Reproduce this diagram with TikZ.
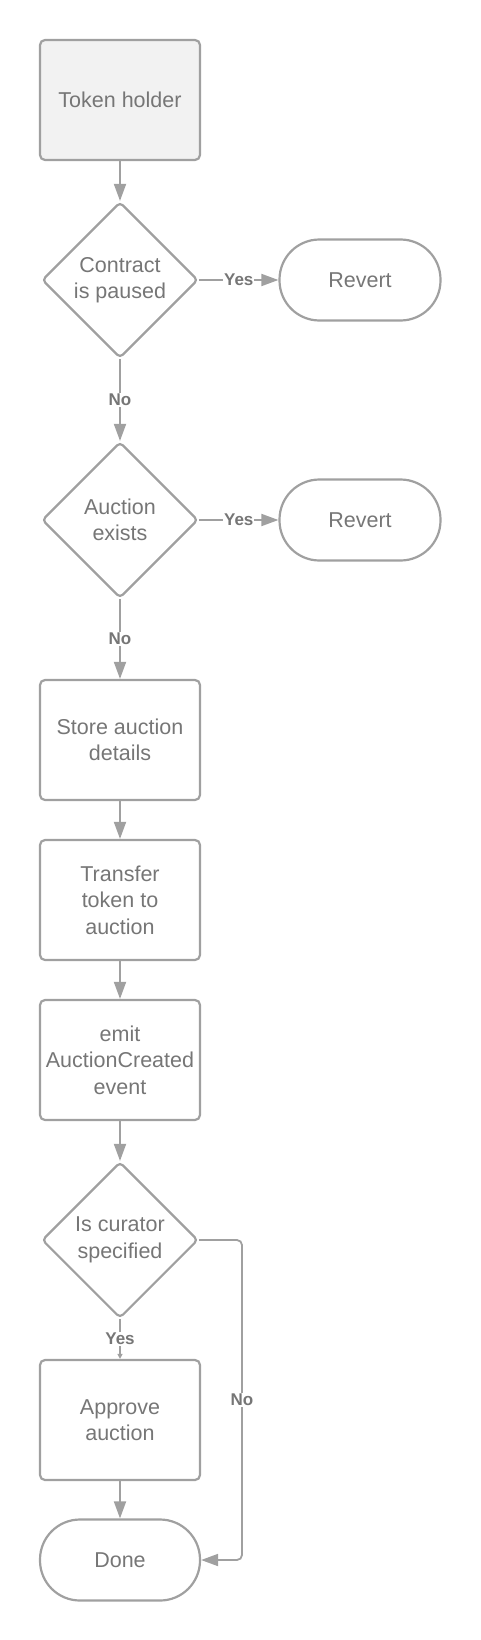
\documentclass[tikz,border=0pt]{standalone}
\usepackage{fontspec}
\setmainfont{Liberation Sans}
\usetikzlibrary{shapes.geometric,arrows.meta}
\definecolor{linegray}{RGB}{160,160,160}
\definecolor{textgray}{RGB}{118,118,118}
\definecolor{startfill}{RGB}{242,242,242}
\begin{document}
\begin{tikzpicture}[x=1pt,y=1pt,
    every node/.style={text=textgray,font=\fontsize{21.5}{26.5}\selectfont,align=center},
    process/.style={draw=linegray,line width=2.2pt,rounded corners=5pt,minimum width=160pt,minimum height=120pt,inner sep=0pt},
    decision/.style={diamond,draw=linegray,line width=2.2pt,rounded corners=4pt,minimum width=156pt,minimum height=156pt,inner sep=0pt},
    terminal/.style={draw=linegray,line width=2.2pt,rounded corners=40pt,minimum width=161pt,minimum height=81pt,inner sep=0pt},
    flow/.style={draw=linegray,line width=1.8pt,-{Triangle[length=17pt,width=12pt]}},
    lbl/.style={fill=white,inner sep=1pt,font=\fontsize{17}{20}\bfseries\selectfont}]
  \useasboundingbox (0,0) rectangle (480,-1640);
  \node[process,fill=startfill] (holder) at (120,-100) {Token holder};
  \node[decision] (paused) at (120,-280) {Contract\\is paused};
  \node[terminal] (revertA) at (360,-280) {Revert};
  \node[decision] (exists) at (120,-520) {Auction\\exists};
  \node[terminal] (revertB) at (360,-520) {Revert};
  \node[process] (store) at (120,-740) {Store auction\\details};
  \node[process] (transfer) at (120,-900) {Transfer\\token to\\auction};
  \node[process] (emit) at (120,-1060) {emit\\AuctionCreated\\event};
  \node[decision] (curator) at (120,-1240) {Is curator\\specified};
  \node[process] (approve) at (120,-1420) {Approve\\auction};
  \node[terminal,minimum width=160pt] (done) at (120,-1560) {Done};
  \coordinate (bend) at (242,-1240);
  \draw[flow] (holder) -- (paused);
  \draw[flow] (paused) -- node[lbl] {Yes} (revertA);
  \draw[flow] (paused) -- node[lbl] {No} (exists);
  \draw[flow] (exists) -- node[lbl] {Yes} (revertB);
  \draw[flow] (exists) -- node[lbl] {No} (store);
  \draw[flow] (store) -- (transfer);
  \draw[flow] (transfer) -- (emit);
  \draw[flow] (emit) -- (curator);
  \draw[flow,-{Triangle[length=5pt,width=5pt]}] (curator) -- node[lbl] {Yes} (approve);
  \draw[flow,rounded corners=5pt] (curator.east) -- (bend) |- node[lbl,pos=0.25] {No} (done.east);
  \draw[flow] (approve) -- (done);
\end{tikzpicture}
\end{document}
